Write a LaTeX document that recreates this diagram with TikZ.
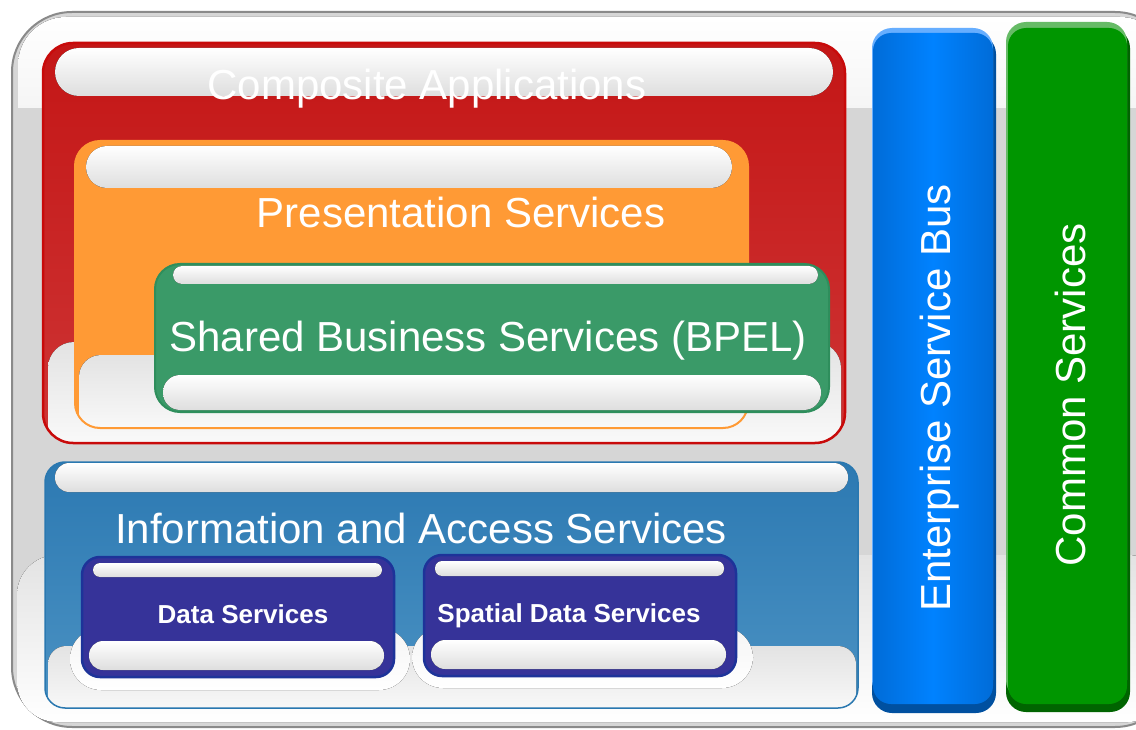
\documentclass[tikz,border=0pt]{standalone}
\usepackage{fontspec}
\setmainfont{Liberation Sans}
\definecolor{framegray}{HTML}{D6D6D6}
\definecolor{frameline}{HTML}{8A8A8A}
\definecolor{redtop}{HTML}{C41616}
\definecolor{redbot}{HTML}{CE3535}
\definecolor{redline}{HTML}{C80A0A}
\definecolor{orangefill}{HTML}{FF9A35}
\definecolor{greentop}{HTML}{3A9A68}
\definecolor{greenmid}{HTML}{56AD82}
\definecolor{greenline}{HTML}{2E8E5C}
\definecolor{bluetop}{HTML}{2C79B2}
\definecolor{bluebot}{HTML}{4B92C3}
\definecolor{blueline}{HTML}{2A78B0}
\definecolor{indigo}{HTML}{363399}
\definecolor{indigoline}{HTML}{1D3399}
\definecolor{esbmain}{HTML}{0082FF}
\definecolor{esbside}{HTML}{006CD8}
\definecolor{esblight}{HTML}{66AEFF}
\definecolor{esbdark}{HTML}{0050A0}
\definecolor{csmain}{HTML}{009600}
\definecolor{cslight}{HTML}{66BB66}
\definecolor{csdark}{HTML}{006400}
\begin{document}
\begin{tikzpicture}[x=1pt,y=-1pt,
  lbl/.style={text=white, font=\fontsize{42}{48}\selectfont, inner sep=0pt, anchor=base},
  sml/.style={text=white, font=\bfseries\fontsize{26}{30}\selectfont, inner sep=0pt, anchor=base},
  pill/.style={top color=white, bottom color=black!13},
  lowgloss/.style={top color=black!11, bottom color=white},
]
\useasboundingbox (0,0) rectangle (1136,730);
% outer frame
\draw[draw=frameline, line width=2pt, fill=framegray, rounded corners=60] (12,12) rectangle (1175,727);
\begin{scope}
  \clip (0,0) rectangle (1200,108);
  \fill[top color=white, bottom color=black!12, rounded corners=48] (18,17) rectangle (1168,300);
\end{scope}
\fill[lowgloss, rounded corners=40] (17,555) rectangle (1168,722);

% Composite Applications (red)
\shade[top color=redtop, bottom color=redbot, rounded corners=30] (43,43) rectangle (845,443);
\begin{scope}
  \clip[rounded corners=30] (43,43) rectangle (845,443);
  \fill[lowgloss, rounded corners=26] (48,342) rectangle (841,470);
\end{scope}
\draw[draw=redline, line width=2.5pt, rounded corners=30] (43,43) rectangle (845,443);
\fill[pill, rounded corners=24] (55,48) rectangle (833,96);
\node[lbl] (composite) at (427,100) {Composite Applications};

% Presentation Services (orange)
\fill[orangefill, rounded corners=25] (75,141) rectangle (748,428);
\begin{scope}
  \clip[rounded corners=25] (75,141) rectangle (748,428);
  \fill[lowgloss, rounded corners=22] (79,355) rectangle (745,450);
\end{scope}
\draw[draw=orangefill, line width=2pt, rounded corners=25] (75,141) rectangle (748,428);
\fill[pill, rounded corners=21] (86,146) rectangle (732,188);
\node[lbl] (presentation) at (461,228) {Presentation Services};

% Shared Business Services (green)
\shade[top color=greentop, middle color=greenmid, bottom color=greentop, rounded corners=25] (155,264) rectangle (829,412);
\draw[draw=greenline, line width=2pt, rounded corners=25] (155,264) rectangle (829,412);
\fill[pill, rounded corners=9] (173,266) rectangle (818,284);
\fill[pill, rounded corners=17] (163,375) rectangle (821,410);
\node[lbl] (shared) at (488,352) {Shared Business Services (BPEL)};

% Information and Access Services (blue)
\shade[top color=bluetop, bottom color=bluebot, rounded corners=20] (45,462) rectangle (858,708);
\begin{scope}
  \clip[rounded corners=20] (45,462) rectangle (858,708);
  \fill[lowgloss, rounded corners=18] (48,646) rectangle (856,730);
  \fill[top color=black!4, bottom color=white, rounded corners=31] (70,628) rectangle (410,690);
  \fill[top color=black!4, bottom color=white, rounded corners=31] (412,627) rectangle (753,688);
\end{scope}
\draw[draw=blueline, line width=1.5pt, rounded corners=20] (45,462) rectangle (858,708);
\fill[pill, rounded corners=14] (55,463) rectangle (848,492);
\node[lbl] (info) at (421,543) {Information and Access Services};

% Data Services
\draw[draw=indigoline, line width=2.5pt, fill=indigo, rounded corners=18] (82,557) rectangle (394,677);
\fill[pill, rounded corners=7] (93,563) rectangle (382,577);
\fill[pill, rounded corners=14] (89,641) rectangle (384,670);
\node[sml] (data) at (243,623) {Data Services};

% Spatial Data Services
\draw[draw=indigoline, line width=2.5pt, fill=indigo, rounded corners=18] (424,555) rectangle (736,676);
\fill[pill, rounded corners=7] (435,561) rectangle (724,576);
\fill[pill, rounded corners=14] (431,640) rectangle (726,669);
\node[sml] (spatial) at (569,622) {Spatial Data Services};

% Enterprise Service Bus
\fill[esbdark, rounded corners=20] (872,34) rectangle (996,713);
\fill[esblight, rounded corners=20] (872,28) rectangle (993,700);
\shade[left color=esbside, right color=esbside, middle color=esbmain, rounded corners=18] (873,33) rectangle (993,704);
\node[lbl, rotate=90] (esb) at (950,398) {Enterprise Service Bus};

% Common Services
\fill[csdark, rounded corners=20] (1006,28) rectangle (1130,712);
\fill[cslight, rounded corners=20] (1006,22) rectangle (1127,700);
\fill[csmain, rounded corners=18] (1008,28) rectangle (1127,704);
\node[lbl, rotate=90] (common) at (1085,395) {Common Services};
\end{tikzpicture}
\end{document}
